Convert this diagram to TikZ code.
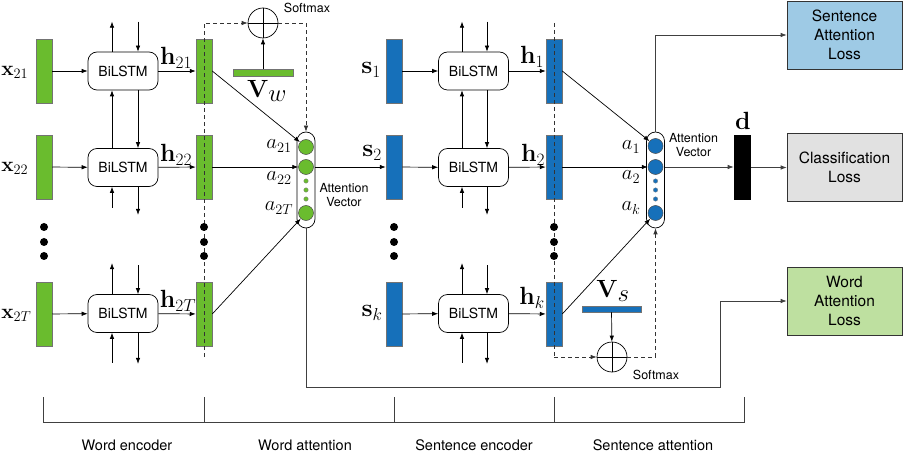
\documentclass[tikz,border=0pt]{standalone}
\usepackage[no-math]{fontspec}
\newfontfamily\hv{TeX Gyre Heros}
\usetikzlibrary{arrows.meta}
\definecolor{wgreen}{RGB}{106,188,46}
\definecolor{sblue}{RGB}{22,112,186}
\definecolor{salc}{RGB}{158,202,229}
\definecolor{clc}{RGB}{225,225,225}
\definecolor{walc}{RGB}{190,224,160}
\begin{document}
\begin{tikzpicture}[x=1pt,y=-1pt,line width=0.7pt,
  arr/.style={-{Latex[length=6pt,width=4.5pt]}},
  dline/.style={draw=black!80,dash pattern=on 4pt off 3pt},
  gvec/.style={draw=black!55,fill=wgreen,minimum width=16pt,minimum height=64pt,inner sep=0pt,line width=0.5pt},
  bvec/.style={gvec,fill=sblue},
  lstm/.style={draw,rounded corners=9pt,minimum width=70pt,minimum height=38pt,font=\hv\fontsize{14}{16}\selectfont,inner sep=0pt},
  ml/.style={font=\fontsize{24}{28}\selectfont,inner sep=0pt},
  xl/.style={font=\fontsize{22}{26}\selectfont,inner sep=0pt,anchor=west},
  al/.style={font=\fontsize{20}{22}\selectfont,inner sep=0pt},
  dotn/.style={circle,fill=black,minimum size=8pt,inner sep=0pt},
  avec/.style={draw,rounded corners=9pt,minimum width=18pt,minimum height=96pt,inner sep=0pt},
  gc/.style={circle,draw=black!70,fill=wgreen,minimum size=15pt,inner sep=0pt,line width=0.5pt},
  bc/.style={gc,fill=sblue},
  sd/.style={circle,draw=black!50,minimum size=4.5pt,inner sep=0pt,line width=0.3pt},
  smc/.style={circle,draw,minimum size=30pt,inner sep=0pt},
  small/.style={font=\hv\fontsize{12.5}{14}\selectfont,inner sep=0pt,align=center},
  lossbox/.style={draw=black!80,minimum width=115pt,minimum height=68pt,align=center,font=\hv\fontsize{15.5}{19}\selectfont,inner sep=0pt},
  botlab/.style={font=\hv\fontsize{14.5}{16}\selectfont,inner sep=0pt},
  gline/.style={draw=black!75}
]
\useasboundingbox (0,0) rectangle (907,454);

% ---------- Word encoder ----------
\node[gvec] (x1) at (44,71) {};
\node[gvec] (x2) at (44,167) {};
\node[gvec] (x3) at (44,314) {};
\node[xl] (lx1) at (1,72) {$\mathbf{x}_{21}$};
\node[xl] (lx2) at (1,168) {$\mathbf{x}_{22}$};
\node[xl] (lx3) at (1,315) {$\mathbf{x}_{2T}$};
\node[lstm] (b1) at (123,71) {BiLSTM};
\node[lstm] (b2) at (123,167.5) {BiLSTM};
\node[lstm] (b3) at (123,313.5) {BiLSTM};
\node[gvec] (hw1) at (204,71) {};
\node[gvec] (hw2) at (204,167) {};
\node[gvec] (hw3) at (204,314) {};
\node[ml] (lhw1) at (176,58) {$\mathbf{h}_{21}$};
\node[ml] (lhw2) at (176,155) {$\mathbf{h}_{22}$};
\node[ml] (lhw3) at (178,301) {$\mathbf{h}_{2T}$};
\draw[arr] (x1) -- (b1);
\draw[arr] (x2) -- (b2);
\draw[arr] (x3) -- (b3);
\draw[arr] (b1) -- (hw1);
\draw[arr] (b2) -- (hw2);
\draw[arr] (b3) -- (hw3);
% vertical arrows
\draw[arr] ([xshift=-11pt]b1.north) -- ([xshift=-11pt,yshift=30pt]b1.north);
\draw[arr] ([xshift=15pt,yshift=30pt]b1.north) -- ([xshift=15pt]b1.north);
\draw[arr] ([xshift=-11pt]b2.north) -- ([xshift=-11pt]b1.south);
\draw[arr] ([xshift=15pt]b1.south) -- ([xshift=15pt]b2.north);
\draw[arr] ([xshift=-11pt,yshift=-21pt]b2.south) -- ([xshift=-11pt]b2.south);
\draw[arr] ([xshift=15pt]b2.south) -- ([xshift=15pt,yshift=-28pt]b2.south);
\draw[arr] ([xshift=-11pt]b3.north) -- ([xshift=-11pt,yshift=31pt]b3.north);
\draw[arr] ([xshift=15pt,yshift=29pt]b3.north) -- ([xshift=15pt]b3.north);
\draw[arr] ([xshift=-11pt,yshift=-30pt]b3.south) -- ([xshift=-11pt]b3.south);
\draw[arr] ([xshift=15pt]b3.south) -- ([xshift=15pt,yshift=-31pt]b3.south);
% dots
\node[dotn] (dx1) at (44,227) {};
\node[dotn] (dx2) at (44,242) {};
\node[dotn] (dx3) at (44,256) {};

% ---------- Word attention ----------
\coordinate (dwtop) at (204,23);
\coordinate (dwbot) at (204,357);
\node[smc] (sm1) at (263,23) {};
\draw (sm1.north) -- (sm1.south) (sm1.west) -- (sm1.east);
\node[small] (smt1) at (307,8) {Softmax};
\node[draw=black!55,fill=wgreen,minimum width=60pt,minimum height=7pt,inner sep=0pt,line width=0.5pt] (vw) at (263,72.5) {};
\node[font=\fontsize{23}{26}\selectfont,inner sep=0pt] (lvw) at (267,91) {$\mathbf{V}_{\textstyle w}$};
\draw[arr] (vw) -- (sm1);
\draw[dline,arr] (dwbot) -- (dwtop) -- (sm1.west);
\node[dotn] (dh1) at (204,227) {};
\node[dotn] (dh2) at (204,242) {};
\node[dotn] (dh3) at (204,256) {};
\node[avec] (av1) at (306,180) {};
\node[gc] (c21) at (306,147) {};
\node[gc] (c22) at (306,167) {};
\node[gc] (c2T) at (306,213) {};
\node[sd,fill=wgreen] (sw1) at (306,181) {};
\node[sd,fill=wgreen] (sw2) at (306,190) {};
\node[sd,fill=wgreen] (sw3) at (306,199) {};
\draw[dline,arr] (sm1.east) -| (av1.north);
\node[al] (la21) at (279,146) {$a_{21}$};
\node[al] (la22) at (279,178) {$a_{22}$};
\node[al] (la2T) at (279,208) {$a_{2T}$};
\node[small] (avt1) at (344,195) {Attention\\Vector};
\draw[arr] (hw1.east) -- (c21);
\draw[arr] (hw2.east) -- (c22);
\draw[arr] (hw3.east) -- (c2T);

% ---------- Sentence encoder ----------
\node[bvec] (s1) at (394,71) {};
\node[bvec] (s2) at (394,167) {};
\node[bvec] (s3) at (394,314) {};
\node[ml] (ls1) at (371,70) {$\mathbf{s}_{1}$};
\node[ml] (ls2) at (372,153) {$\mathbf{s}_{2}$};
\node[ml] (ls3) at (372,313) {$\mathbf{s}_{k}$};
\node[lstm] (b4) at (473.5,71) {BiLSTM};
\node[lstm] (b5) at (473.5,167.5) {BiLSTM};
\node[lstm] (b6) at (473.5,313.5) {BiLSTM};
\node[bvec] (hs1) at (554,71) {};
\node[bvec] (hs2) at (554,167) {};
\node[bvec] (hs3) at (554,314) {};
\node[ml] (lhs1) at (532,57) {$\mathbf{h}_{1}$};
\node[ml] (lhs2) at (533,155) {$\mathbf{h}_{2}$};
\node[ml] (lhs3) at (532,298) {$\mathbf{h}_{k}$};
\draw[arr] (c22 -| av1.east) -- (s2.west);
\draw[arr] (s1) -- (b4);
\draw[arr] (s2) -- (b5);
\draw[arr] (s3) -- (b6);
\draw[arr] (b4) -- (hs1);
\draw[arr] (b5) -- (hs2);
\draw[arr] (b6) -- (hs3);
\draw[arr] ([xshift=-11.5pt]b4.north) -- ([xshift=-11.5pt,yshift=30pt]b4.north);
\draw[arr] ([xshift=13.5pt,yshift=30pt]b4.north) -- ([xshift=13.5pt]b4.north);
\draw[arr] ([xshift=-11.5pt]b5.north) -- ([xshift=-11.5pt]b4.south);
\draw[arr] ([xshift=13.5pt]b4.south) -- ([xshift=13.5pt]b5.north);
\draw[arr] ([xshift=-11.5pt,yshift=-21pt]b5.south) -- ([xshift=-11.5pt]b5.south);
\draw[arr] ([xshift=13.5pt]b5.south) -- ([xshift=13.5pt,yshift=-28pt]b5.south);
\draw[arr] ([xshift=-11.5pt]b6.north) -- ([xshift=-11.5pt,yshift=31pt]b6.north);
\draw[arr] ([xshift=13.5pt,yshift=29pt]b6.north) -- ([xshift=13.5pt]b6.north);
\draw[arr] ([xshift=-11.5pt,yshift=-30pt]b6.south) -- ([xshift=-11.5pt]b6.south);
\draw[arr] ([xshift=13.5pt]b6.south) -- ([xshift=13.5pt,yshift=-31pt]b6.south);
\node[dotn] (ds1) at (394,227) {};
\node[dotn] (ds2) at (394,242) {};
\node[dotn] (ds3) at (394,256) {};

% ---------- Sentence attention ----------
\coordinate (dstop) at (554,23);
\coordinate (dsbot) at (554,357);
\node[smc] (sm2) at (612,357) {};
\draw (sm2.north) -- (sm2.south) (sm2.west) -- (sm2.east);
\node[small] (smt2) at (656,375) {Softmax};
\node[draw=black!55,fill=sblue,minimum width=59pt,minimum height=6pt,inner sep=0pt,line width=0.5pt] (vs) at (611.5,309) {};
\node[font=\fontsize{23}{26}\selectfont,inner sep=0pt] (lvs) at (613,291) {$\mathbf{V}_{\textstyle s}$};
\draw[arr] (vs) -- (sm2);
\draw[dline] (dstop) -- (dsbot);
\draw[dline,arr] (dsbot) -- (sm2.west);
\node[dotn] (dhs1) at (554,227) {};
\node[dotn] (dhs2) at (554,242) {};
\node[dotn] (dhs3) at (554,256) {};
\node[avec] (av2) at (655.5,180) {};
\node[bc] (c1) at (655.5,146) {};
\node[bc] (c2) at (655.5,167) {};
\node[bc] (ck) at (655.5,213) {};
\node[sd,fill=sblue] (ss1) at (655.5,181) {};
\node[sd,fill=sblue] (ss2) at (655.5,190) {};
\node[sd,fill=sblue] (ss3) at (655.5,199) {};
\draw[dline,arr] (sm2.east) -| (av2.south);
\node[al] (la1) at (631,147) {$a_{1}$};
\node[al] (la2) at (631,177) {$a_{2}$};
\node[al] (lak) at (631,208) {$a_{k}$};
\node[small] (avt2) at (693.5,145.5) {Attention\\Vector};
\draw[arr] (hs1.east) -- (c1);
\draw[arr] (hs2.east) -- (c2);
\draw[arr] (hs3.east) -- (ck);

% ---------- output ----------
\node[fill=black,minimum width=17pt,minimum height=65pt,inner sep=0pt] (dv) at (742.5,167.5) {};
\node[font=\fontsize{24}{26}\selectfont,inner sep=0pt] (ld) at (743,121) {$\mathbf{d}$};
\node[lossbox,fill=salc] (sal) at (844.5,35) {Sentence\\Attention\\Loss};
\node[lossbox,fill=clc] (cl) at (844.5,167.5) {Classification\\Loss};
\node[lossbox,fill=walc] (wal) at (844.5,301) {Word\\Attention\\Loss};
\draw[arr,gline] (av2.north) |- (sal.west);
\draw[arr,gline] (c2 -| av2.east) -- (c2 -| dv.west);
\draw[arr,gline] (dv) -- (cl);
\coordinate (wc1) at (306,387);
\coordinate (wc2) at (720,387);
\draw[arr,gline] (av1.south) -- (wc1) -- (wc2) |- (wal.west);

% ---------- bottom brackets ----------
\draw[gline] (43,397) -- (43,422) -- (744,422) -- (744,397);
\foreach \xx in {204,394,554} \draw[gline] (\xx,397) -- (\xx,422);
\node[botlab] (bl1) at (127,445) {Word encoder};
\node[botlab] (bl2) at (305,445) {Word attention};
\node[botlab] (bl3) at (474,445) {Sentence encoder};
\node[botlab] (bl4) at (653,445) {Sentence attention};
\end{tikzpicture}
\end{document}
